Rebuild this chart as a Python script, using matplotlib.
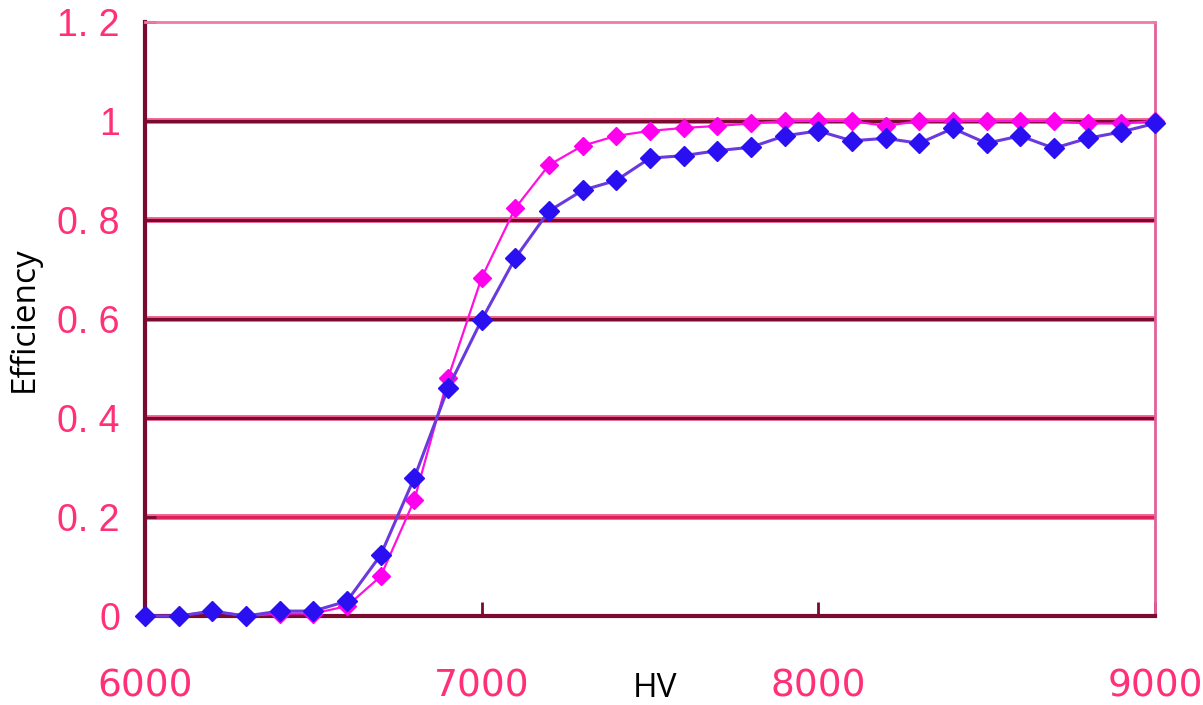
import numpy as np
import matplotlib.pyplot as plt
from matplotlib.ticker import FuncFormatter

hv = list(range(6000, 9001, 100))

# magenta series
eff_a = [0.0, 0.0, 0.01, 0.0, 0.005, 0.005, 0.02, 0.08, 0.234, 0.48, 0.683,
         0.824, 0.911, 0.95, 0.97, 0.98, 0.986, 0.99, 0.995, 1.0, 1.0,
         1.0, 0.99, 1.0, 1.0, 1.0, 1.0, 1.0, 0.995, 0.995, 1.0]
# blue series
eff_b = [0.0, 0.0, 0.01, 0.0, 0.01, 0.01, 0.03, 0.123, 0.279, 0.46, 0.598,
         0.723, 0.818, 0.86, 0.88, 0.925, 0.93, 0.94, 0.947, 0.97, 0.98,
         0.96, 0.965, 0.955, 0.985, 0.955, 0.97, 0.945, 0.965, 0.978, 0.995]

y_ticks = [0, 0.2, 0.4, 0.6, 0.8, 1.0, 1.2]
x_ticks = [6000, 7000, 8000, 9000]

pink = "#ff2f78"
maroon = "#7a0a30"

fig = plt.figure(figsize=(12.03, 7.05), dpi=100)
ax = fig.add_axes([0.1205, 0.1262, 0.8395, 0.8426])

# horizontal gridlines (pink halo + dark core)
for v in y_ticks[1:-1]:
    core = "#e0205a" if v == 0.2 else maroon
    ax.axhline(v, color="#f06090", lw=4.2, zorder=1)
    ax.axhline(v, color=core, lw=2.2, zorder=1.1)

ax.plot(hv, eff_a, color="#ff10e0", lw=1.6, marker="D", ms=9,
        mfc="#ff00ee", mec="#ff00ee", zorder=3, clip_on=False)
ax.plot(hv, eff_b, color="#6a3adf", lw=2.2, marker="D", ms=10,
        mfc="#2a10f0", mec="#2a10f0", zorder=4, clip_on=False)

ax.set_xlim(6000, 9000)
ax.set_ylim(0, 1.2)
ax.set_xticks(x_ticks)
ax.set_yticks(y_ticks)
ax.yaxis.set_major_formatter(FuncFormatter(lambda v, p: "0" if v == 0 else
                                           ("1" if abs(v - 1) < 1e-9 else f"{v:.1f}".replace(".", ". "))))

ax.tick_params(axis="y", direction="in", length=8, width=2, color=maroon,
               labelcolor=pink, labelsize=27, pad=18)
ax.tick_params(axis="x", direction="in", length=10, width=2, color=maroon,
               labelcolor=pink, labelsize=27, pad=38)
for lab in ax.get_xticklabels():
    lab.set_family(["Liberation Sans Narrow", "DejaVu Sans"])
for lab in ax.get_yticklabels():
    lab.set_family(["Liberation Sans", "DejaVu Sans"])

ax.spines["left"].set_color(maroon)
ax.spines["left"].set_linewidth(3)
ax.spines["bottom"].set_color(maroon)
ax.spines["bottom"].set_linewidth(3)
ax.spines["top"].set_color("#f07aa8")
ax.spines["top"].set_linewidth(2)
ax.spines["right"].set_color("#e0609a")
ax.spines["right"].set_linewidth(2)

ax.set_xlabel("HV", fontsize=24, color="black", family="Open Sans")
ax.xaxis.set_label_coords(0.505, -0.095)
ax.set_ylabel("Efficiency", fontsize=24, color="black", family="Open Sans", labelpad=12)

fig.savefig("out.png", dpi=100)
